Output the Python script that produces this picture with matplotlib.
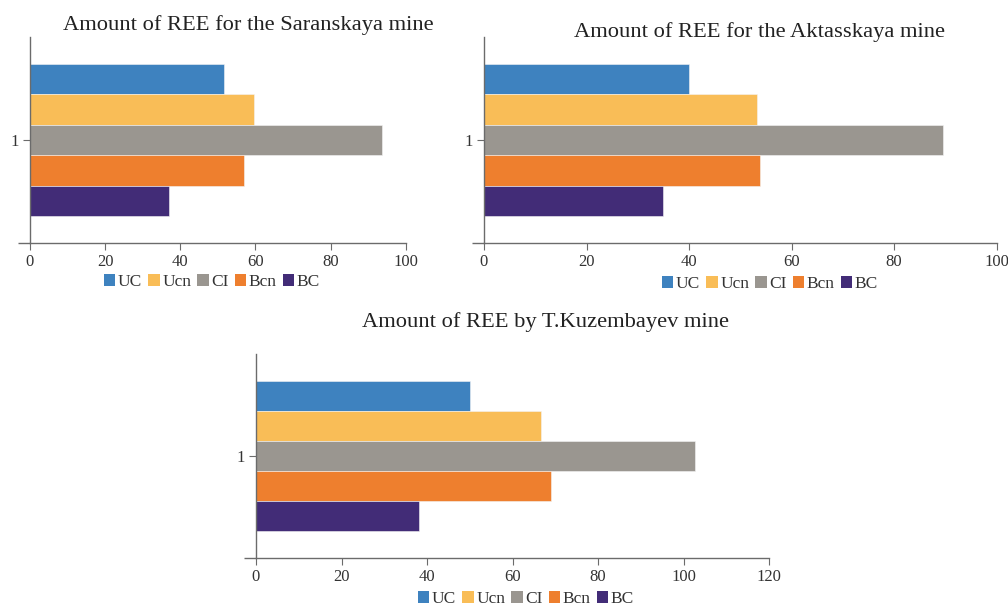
import matplotlib
matplotlib.use("Agg")
import matplotlib.pyplot as plt
from matplotlib.patches import Patch

plt.rcParams['font.family'] = ['Liberation Serif', 'DejaVu Serif']

series = ["UC", "Ucn", "CI", "Bcn", "BC"]
colors = ["#3e82bf", "#f9bd57", "#9a9690", "#ee7f2e", "#422c77"]
category = ["1"]

saranskaya = [51.7, 59.5, 93.7, 57.0, 37.1]
aktasskaya = [40.0, 53.3, 89.6, 53.8, 34.9]
kuzembayev = [50.1, 66.6, 102.6, 69.0, 38.1]

titles = ["Amount of REE for the Saranskaya mine",
          "Amount of REE for the Aktasskaya mine",
          "Amount of REE by T.Kuzembayev mine"]
xmax = [100, 100, 120]
xticks = [[0, 20, 40, 60, 80, 100], [0, 20, 40, 60, 80, 100],
          [0, 20, 40, 60, 80, 100, 120]]

W, H = 1008, 608
fig = plt.figure(figsize=(W / 100, H / 100), dpi=100)

def fr(x0, x1, ybot, ytop):
    return [x0 / W, 1 - ybot / H, (x1 - x0) / W, (ybot - ytop) / H]

rects = [fr(30, 405.7, 243, 37), fr(484, 996.7, 243, 37), fr(256, 769, 558, 354)]
titlepos = [(248, 25), (760, 32), (546, 322)]
legpos = [(212, 282), (770, 284), (526, 599)]

h = 0.1476
offsets = [2, 1, 0, -1, -2]

for data, title, xm, xt, rect, tp, lp in zip([saranskaya, aktasskaya, kuzembayev],
                                              titles, xmax, xticks, rects, titlepos, legpos):
    ax = fig.add_axes(rect)
    for i, (name, val) in enumerate(zip(series, data)):
        ax.barh(1 + offsets[i] * h, val, height=h, color=colors[i], label=name,
                edgecolor='#f4f4f4', linewidth=0.4)
    ax.set_xlim(0, xm)
    ax.set_ylim(0.5, 1.5)
    ax.set_xticks(xt)
    ax.set_yticks([1])
    ax.set_yticklabels(category)
    ax.set_yticks([0.5], minor=True)
    for s in ['top', 'right']:
        ax.spines[s].set_visible(False)
    for s in ['left', 'bottom']:
        ax.spines[s].set_color('#6b6b6b')
        ax.spines[s].set_linewidth(1.0)
    ax.tick_params(axis='x', direction='out', length=5, color='#6b6b6b',
                   labelsize=12, labelcolor='#333333', pad=3)
    ax.tick_params(axis='y', which='major', direction='out', length=5, color='#6b6b6b',
                   labelsize=12, labelcolor='#333333', pad=3)
    ax.tick_params(axis='y', which='minor', direction='out', length=9, color='#6b6b6b', width=1.0)
    fig.text(tp[0] / W, 1 - tp[1] / H, title, ha='center', va='center',
             fontsize=16.2, color='#222222')
    handles = [Patch(facecolor=c, edgecolor='none') for c in colors]
    fig.legend(handles, series, loc='center', bbox_to_anchor=(lp[0] / W, 1 - lp[1] / H),
               ncol=5, frameon=False, fontsize=12.5, handlelength=0.65, handleheight=0.65,
               handletextpad=0.15, columnspacing=0.35, labelcolor='#333333')

fig.savefig("out.png", dpi=100, facecolor='white')
